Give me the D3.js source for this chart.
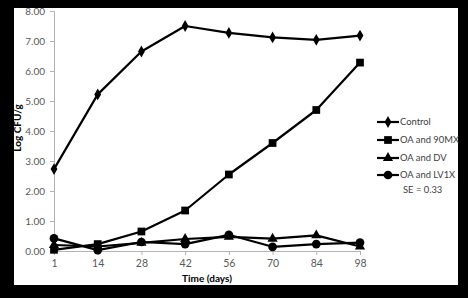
<!DOCTYPE html>
<html>
<head>
<meta charset="utf-8">
<script src="https://cdn.jsdelivr.net/npm/d3@7"></script>
<style>
  html, body { margin: 0; padding: 0; background: #000; }
  svg { display: block; }
</style>
</head>
<body>
<svg id="chart"></svg>
<script>
// data
const days = ["1", "14", "28", "42", "56", "70", "84", "98"];
const control = [2.73, 5.22, 6.65, 7.50, 7.27, 7.12, 7.04, 7.18];
const oa90mx = [0.04, 0.23, 0.65, 1.35, 2.55, 3.60, 4.70, 6.28];
const oaDV = [0.20, 0.15, 0.27, 0.40, 0.47, 0.41, 0.52, 0.15];
const oaLV1X = [0.42, 0.03, 0.30, 0.23, 0.54, 0.14, 0.23, 0.28];
const yTicks = [0, 1, 2, 3, 4, 5, 6, 7, 8];

const series = [
  { name: "Control", values: control, symbol: d3.symbolDiamond, size: 40 },
  { name: "OA and 90MX", values: oa90mx, symbol: d3.symbolSquare, size: 60 },
  { name: "OA and DV", values: oaDV, symbol: d3.symbolTriangle, size: 45 },
  { name: "OA and LV1X", values: oaLV1X, symbol: d3.symbolCircle, size: 60 }
];

const W = 468, H = 298;
const root = d3.select("#chart").attr("width", W).attr("height", H);

// white card inside black frame
root.append("rect").attr("x", 14).attr("y", 8).attr("width", 444).attr("height", 277).attr("fill", "#fff");

const x = d3.scalePoint().domain(days).range([54, 360]);
const y = d3.scaleLinear().domain([0, 8]).range([251, 11]);

const font = "Lato, 'Open Sans', sans-serif";
const axisColor = "#b3b3b3";

// y axis
const gy = root.append("g").attr("transform", "translate(54,0)")
  .call(d3.axisLeft(y).tickValues(yTicks).tickFormat(d3.format(".2f")).tickSize(4).tickPadding(5));
gy.select(".domain").attr("stroke", axisColor);
gy.selectAll(".tick line").attr("stroke", axisColor);
gy.selectAll("text").attr("fill", "#595959").style("font-family", font).style("font-size", "10px");

// x axis
const gx = root.append("g").attr("transform", "translate(0,251)")
  .call(d3.axisBottom(x).tickSize(4).tickPadding(5));
gx.select(".domain").attr("stroke", axisColor).attr("d", "M54,0.5H360");
gx.selectAll(".tick line").attr("stroke", axisColor);
gx.selectAll("text").attr("fill", "#595959").style("font-family", font).style("font-size", "10.5px");

// axis titles
root.append("text")
  .attr("x", 207).attr("y", 282)
  .attr("text-anchor", "middle")
  .style("font-family", font).style("font-size", "10px").style("font-weight", "700")
  .attr("fill", "#000")
  .text("Time (days)");

root.append("text")
  .attr("transform", "translate(21,128) rotate(-90)")
  .attr("text-anchor", "middle")
  .style("font-family", font).style("font-size", "10px").style("font-weight", "700")
  .attr("fill", "#000")
  .text("Log CFU/g");

// lines + markers
const line = d3.line().x((d, i) => x(days[i])).y(d => y(d));

series.forEach(s => {
  root.append("path")
    .datum(s.values)
    .attr("d", line)
    .attr("fill", "none")
    .attr("stroke", "#000")
    .attr("stroke-width", 2.2)
    .attr("stroke-linejoin", "round");

  root.selectAll(null)
    .data(s.values)
    .enter()
    .append("path")
    .attr("transform", (d, i) => `translate(${x(days[i])},${y(d)})`)
    .attr("d", d3.symbol().type(s.symbol).size(s.size))
    .attr("fill", "#000");
});

// legend
const legendY = [122, 140, 158, 175];
const legend = root.selectAll("g.leg")
  .data(series)
  .enter()
  .append("g")
  .attr("class", "leg")
  .attr("transform", (d, i) => `translate(377,${legendY[i]})`);

legend.append("line")
  .attr("x1", 0).attr("x2", 22).attr("y1", 0).attr("y2", 0)
  .attr("stroke", "#000").attr("stroke-width", 2.2);

legend.append("path")
  .attr("transform", "translate(11,0)")
  .attr("d", d => d3.symbol().type(d.symbol).size(d.size)())
  .attr("fill", "#000");

legend.append("text")
  .attr("x", 23).attr("y", 0).attr("dy", "0.35em")
  .style("font-family", font).style("font-size", "9.4px")
  .attr("fill", "#404040")
  .text(d => d.name);

root.append("text")
  .attr("x", 403).attr("y", 190).attr("dy", "0.35em")
  .style("font-family", font).style("font-size", "9.4px")
  .attr("fill", "#404040")
  .text("SE = 0.33");
</script>
</body>
</html>
